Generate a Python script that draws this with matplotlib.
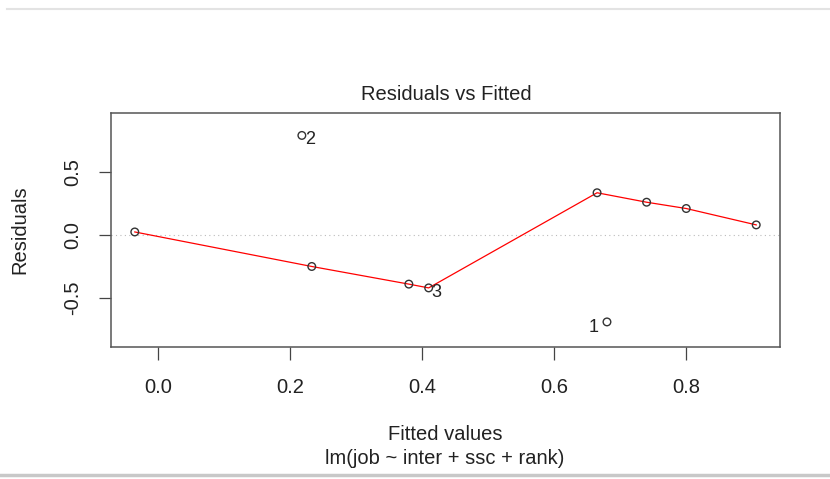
import matplotlib.pyplot as plt
from matplotlib.lines import Line2D

# fitted values and residuals
fitted = [-0.035, 0.218, 0.233, 0.38, 0.41, 0.665, 0.68, 0.74, 0.80, 0.906]
resid = [0.024, 0.79, -0.25, -0.39, -0.42, 0.335, -0.69, 0.26, 0.21, 0.08]
obs_id = ['', '2', '', '', '3', '', '1', '', '', '']

# smoother (red line), passes near all points except the outliers
smooth_x = [-0.035, 0.233, 0.38, 0.41, 0.665, 0.74, 0.80, 0.906]
smooth_y = [0.024, -0.25, -0.39, -0.42, 0.335, 0.26, 0.21, 0.08]

xticks = [0.0, 0.2, 0.4, 0.6, 0.8]
yticks = [-0.5, 0.0, 0.5]

plt.rcParams['font.family'] = ['Liberation Sans', 'DejaVu Sans']
fs = 14.5
tc = '#222222'

fig = plt.figure(figsize=(8.3, 4.79), dpi=100)
ax = fig.add_axes([111 / 830, 1 - 347 / 479, 669 / 830, 234 / 479])

ax.axhline(0, color='#bbbbbb', linestyle=(0, (1, 3)), linewidth=0.8)
ax.plot(smooth_x, smooth_y, color='red', linewidth=0.9)
ax.scatter(fitted, resid, s=30, facecolors='none', edgecolors='#333333', linewidths=1.0, zorder=3)

for x, y, lab in zip(fitted, resid, obs_id):
    if lab == '':
        continue
    if lab == '1':
        ax.annotate(lab, (x, y), xytext=(-6, -4), textcoords='offset points',
                    ha='right', va='center', fontsize=13, color=tc)
    else:
        ax.annotate(lab, (x, y), xytext=(2, -3), textcoords='offset points',
                    ha='left', va='center', fontsize=13, color=tc)

ax.set_xlim(-0.071, 0.942)
ax.set_ylim(-0.889, 0.968)
ax.set_xticks(xticks)
ax.set_xticklabels(['0.0', '0.2', '0.4', '0.6', '0.8'])
ax.set_yticks(yticks)
ax.set_yticklabels(['-0.5', '0.0', '0.5'], rotation=90, va='center')

ax.tick_params(axis='both', length=9, width=0.9, color='#444444', labelsize=fs, labelcolor=tc)
ax.tick_params(axis='x', pad=13)
ax.tick_params(axis='y', pad=12)
for sp in ax.spines.values():
    sp.set_color('#555555')
    sp.set_linewidth(1.1)

fig.text(446 / 830, 1 - 95 / 479, 'Residuals vs Fitted', ha='center', va='center', fontsize=fs, color=tc)
fig.text(20 / 830, 1 - 230 / 479, 'Residuals', ha='center', va='center', rotation=90, fontsize=fs, color=tc)
fig.text(445 / 830, 1 - 435 / 479, 'Fitted values', ha='center', va='center', fontsize=fs, color=tc)
fig.text(445 / 830, 1 - 458 / 479, 'lm(job ~ inter + ssc + rank)', ha='center', va='center', fontsize=fs, color=tc)

# grey rules at top and bottom of the screenshot
fig.add_artist(Line2D([7 / 830, 1], [1 - 9 / 479, 1 - 9 / 479], transform=fig.transFigure, color='#e3e3e3', linewidth=1.5))
fig.add_artist(Line2D([0, 1], [1 - 475 / 479, 1 - 475 / 479], transform=fig.transFigure, color='#c8c8c8', linewidth=2.5))

fig.savefig('out.png', dpi=100)
